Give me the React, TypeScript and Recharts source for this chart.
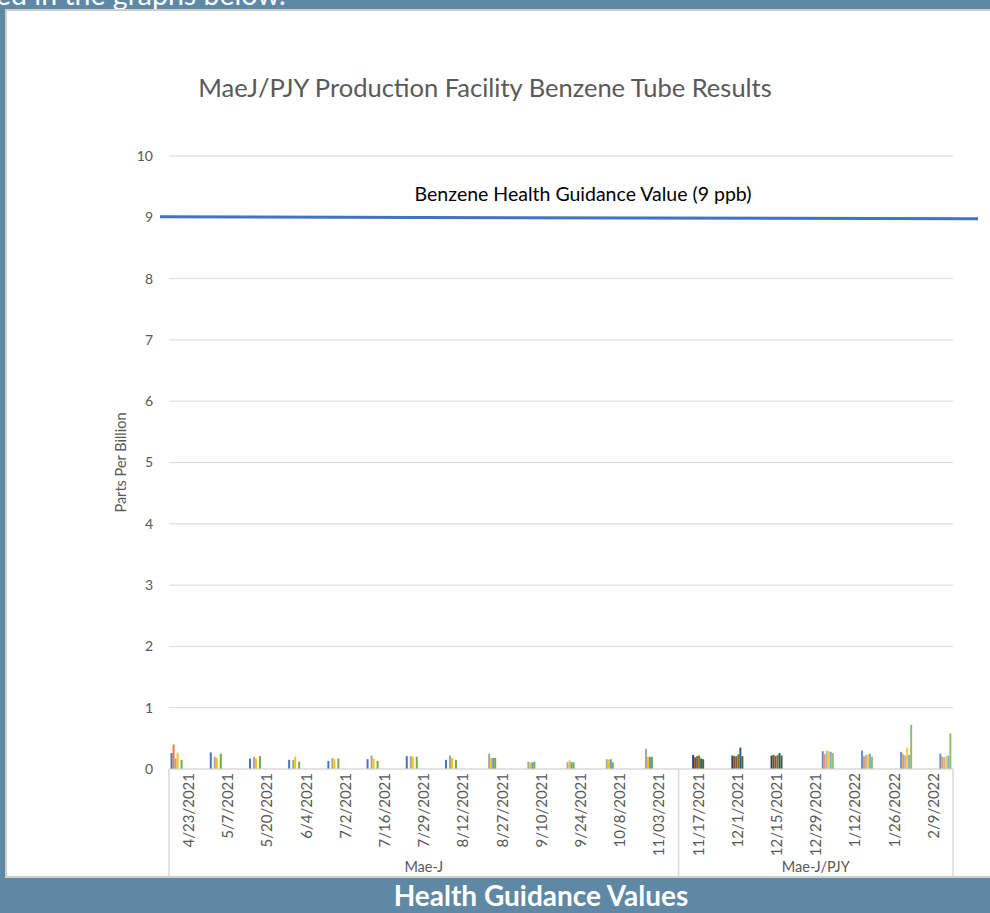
import React from 'react';
import { BarChart, Bar, XAxis, YAxis, CartesianGrid, ReferenceLine } from 'recharts';

const dates = [
  '4/23/2021', '5/7/2021', '5/20/2021', '6/4/2021', '7/2/2021', '7/16/2021', '7/29/2021',
  '8/12/2021', '8/27/2021', '9/10/2021', '9/24/2021', '10/8/2021', '11/03/2021',
  '11/17/2021', '12/1/2021', '12/15/2021', '12/29/2021', '1/12/2022', '1/26/2022', '2/9/2022',
];
const groups = [
  'Mae-J', 'Mae-J', 'Mae-J', 'Mae-J', 'Mae-J', 'Mae-J', 'Mae-J', 'Mae-J', 'Mae-J', 'Mae-J', 'Mae-J', 'Mae-J', 'Mae-J',
  'Mae-J/PJY', 'Mae-J/PJY', 'Mae-J/PJY', 'Mae-J/PJY', 'Mae-J/PJY', 'Mae-J/PJY', 'Mae-J/PJY',
];
const yTicks = [0, 1, 2, 3, 4, 5, 6, 7, 8, 9, 10];
const guidanceValue = 9;
const guidanceLabel = 'Benzene Health Guidance Value (9 ppb)';
const chartTitle = 'MaeJ/PJY Production Facility Benzene Tube Results';
const yLabel = 'Parts Per Billion';
const headerText = 'ed in the graphs below.';
const footerText = 'Health Guidance Values';

const N = null;
// Mae-J samplers (series 1-6)
const s1 = [0.26, 0.27, 0.17, 0.15, 0.13, 0.16, 0.21, 0.15, N, N, N, N, N, N, N, N, N, N, N, N];
const s2 = [0.40, N, N, N, N, N, N, N, N, N, N, N, N, N, N, N, N, N, N, N];
const s3 = [0.17, 0.20, 0.20, 0.15, 0.18, 0.22, 0.21, 0.22, 0.25, 0.12, 0.11, 0.16, 0.33, N, N, N, N, N, N, N];
const s4 = [0.26, 0.18, 0.17, 0.20, 0.16, 0.17, 0.20, 0.18, 0.18, 0.10, 0.14, 0.15, 0.20, N, N, N, N, N, N, N];
const s5 = [N, N, N, N, N, N, N, N, 0.18, 0.11, 0.11, 0.16, 0.20, N, N, N, N, N, N, N];
const s6 = [0.15, 0.25, 0.21, 0.12, 0.17, 0.13, 0.20, 0.15, 0.18, 0.12, 0.11, 0.11, 0.20, N, N, N, N, N, N, N];
// Mae-J/PJY Nov-Dec (series 7-12)
const s7 = [N, N, N, N, N, N, N, N, N, N, N, N, N, 0.23, 0.22, 0.22, N, N, N, N];
const s8 = [N, N, N, N, N, N, N, N, N, N, N, N, N, 0.19, 0.21, 0.23, N, N, N, N];
const s9 = [N, N, N, N, N, N, N, N, N, N, N, N, N, 0.21, 0.21, 0.21, N, N, N, N];
const s10 = [N, N, N, N, N, N, N, N, N, N, N, N, N, 0.22, 0.24, 0.23, N, N, N, N];
const s11 = [N, N, N, N, N, N, N, N, N, N, N, N, N, 0.17, 0.35, 0.26, N, N, N, N];
const s12 = [N, N, N, N, N, N, N, N, N, N, N, N, N, 0.16, 0.21, 0.22, N, N, N, N];
// Mae-J/PJY Dec 29 onward (series 13-18)
const s13 = [N, N, N, N, N, N, N, N, N, N, N, N, N, N, N, N, 0.29, 0.30, 0.28, 0.25];
const s14 = [N, N, N, N, N, N, N, N, N, N, N, N, N, N, N, N, 0.24, 0.21, 0.24, 0.20];
const s15 = [N, N, N, N, N, N, N, N, N, N, N, N, N, N, N, N, 0.30, 0.23, 0.22, 0.19];
const s16 = [N, N, N, N, N, N, N, N, N, N, N, N, N, N, N, N, 0.29, 0.24, 0.35, 0.21];
const s17 = [N, N, N, N, N, N, N, N, N, N, N, N, N, N, N, N, 0.28, 0.25, 0.23, 0.22];
const s18 = [N, N, N, N, N, N, N, N, N, N, N, N, N, N, N, N, 0.26, 0.20, 0.72, 0.58];

const seriesValues = [s1, s2, s3, s4, s5, s6, s7, s8, s9, s10, s11, s12, s13, s14, s15, s16, s17, s18];
const seriesColors = [
  '#4472C4', '#ED7D31', '#A5A5A5', '#FFC000', '#5B9BD5', '#70AD47',
  '#264478', '#9E480E', '#636363', '#997300', '#255E91', '#43682B',
  '#698ED0', '#F1975A', '#B7B7B7', '#FFCD33', '#7CAFDD', '#8CC168',
];

const data = dates.map((d, i) => {
  const row: Record<string, any> = { date: d, group: groups[i] };
  seriesValues.forEach((arr, k) => {
    row['s' + (k + 1)] = arr[i];
  });
  return row;
});

const W = 990;
const H = 913;
const X_AXIS_H = 107;
const M = { top: 156, right: 37, bottom: 144 - X_AXIS_H, left: 109 };
const Y_AXIS_W = 60;
const PLOT_W = W - M.left - M.right - Y_AXIS_W;
const BAND = PLOT_W / dates.length;

const FONT = 'Lato, "Open Sans", sans-serif';
const TXT = '#595959';
const LINE = '#d9d9d9';

const XTick = (props: any) => {
  const { x, y, payload } = props;
  const i = payload.index;
  const g = groups[i];
  const first = groups.indexOf(g);
  const last = groups.lastIndexOf(g);
  const mid = (first + last) / 2;
  const bottom = y + X_AXIS_H;
  const ty = y + 4;
  return (
    <g>
      <text
        x={x}
        y={ty}
        dy="0.36em"
        transform={`rotate(-90 ${x} ${ty})`}
        textAnchor="end"
        fill={TXT}
        fontSize={15}
        fontFamily={FONT}
      >
        {payload.value}
      </text>
      {i === first && (
        <line x1={x - BAND / 2} y1={y} x2={x - BAND / 2} y2={bottom} stroke={LINE} strokeWidth={1.5} />
      )}
      {i === dates.length - 1 && (
        <line x1={x + BAND / 2} y1={y} x2={x + BAND / 2} y2={bottom} stroke={LINE} strokeWidth={1.5} />
      )}
      {Math.abs(i - mid) < 0.01 && (
        <text x={x} y={y + 98} dy="0.36em" textAnchor="middle" fill={TXT} fontSize={14.5} fontFamily={FONT}>
          {g}
        </text>
      )}
    </g>
  );
};

const GuidanceShape = (props: any) => {
  const { x1, y1, x2, y2 } = props;
  return (
    <g>
      <line x1={x1 - 9} y1={y1 - 0.5} x2={x2 + 25} y2={y2 + 1.5} stroke="#4472C4" strokeWidth={3} />
      <text x={(x1 + x2) / 2 + 22} y={y1 - 16} textAnchor="middle" fill="#000" fontSize={19.5} fontFamily={FONT}>
        {guidanceLabel}
      </text>
    </g>
  );
};

const YLabel = (props: any) => {
  const vb = props.viewBox || {};
  const cx = vb.x + 12;
  const cy = vb.y + vb.height / 2;
  return (
    <text
      x={cx}
      y={cy}
      transform={`rotate(-90 ${cx} ${cy})`}
      textAnchor="middle"
      dy="0.36em"
      fill={TXT}
      fontSize={14.5}
      fontFamily={FONT}
    >
      {yLabel}
    </text>
  );
};

export default function App() {
  return (
    <div style={{ position: 'absolute', left: 0, top: 0, width: W, height: H, background: '#5F88A4', overflow: 'hidden' }}>
      <svg style={{ position: 'absolute', left: 0, top: 0 }} width={W} height={30}>
        <text x={-4} y={5} fill="#fff" fontSize={28.5} fontFamily={FONT}>
          {headerText}
        </text>
      </svg>
      <div
        style={{
          position: 'absolute', left: 5, top: 9, width: 1000, height: 869,
          background: '#fff', border: '2px solid #cfcfcf', boxSizing: 'border-box',
        }}
      />
      <svg style={{ position: 'absolute', left: 0, top: 878 }} width={W} height={35}>
        <text x={541} y={28} textAnchor="middle" fill="#fff" fontSize={28} fontWeight={700} fontFamily={FONT}>
          {footerText}
        </text>
      </svg>
      <div
        style={{
          position: 'absolute', left: 0, width: 970, top: 72, textAlign: 'center', color: TXT,
          fontFamily: FONT, fontSize: 25.5, lineHeight: '30px', whiteSpace: 'nowrap',
        }}
      >
        {chartTitle}
      </div>
      <div style={{ position: 'absolute', left: 0, top: 0 }}>
        <BarChart width={W} height={H} data={data} margin={M} barCategoryGap="4%" barGap={0}>
          <CartesianGrid vertical={false} stroke={LINE} />
          <XAxis
            dataKey="date"
            interval={0}
            height={X_AXIS_H}
            tickSize={0}
            tickMargin={0}
            tickLine={false}
            axisLine={{ stroke: LINE }}
            tick={<XTick />}
          />
          <YAxis
            width={Y_AXIS_W}
            domain={[0, 10]}
            ticks={yTicks}
            interval={0}
            axisLine={false}
            tickLine={false}
            tickSize={0}
            tickMargin={16}
            tick={{ fill: TXT, fontSize: 14, fontFamily: FONT }}
            label={<YLabel />}
          />
          {seriesColors.map((c, k) => (
            <Bar key={k} dataKey={'s' + (k + 1)} fill={c} isAnimationActive={false} />
          ))}
          <ReferenceLine y={guidanceValue} shape={<GuidanceShape />} />
        </BarChart>
      </div>
    </div>
  );
}
